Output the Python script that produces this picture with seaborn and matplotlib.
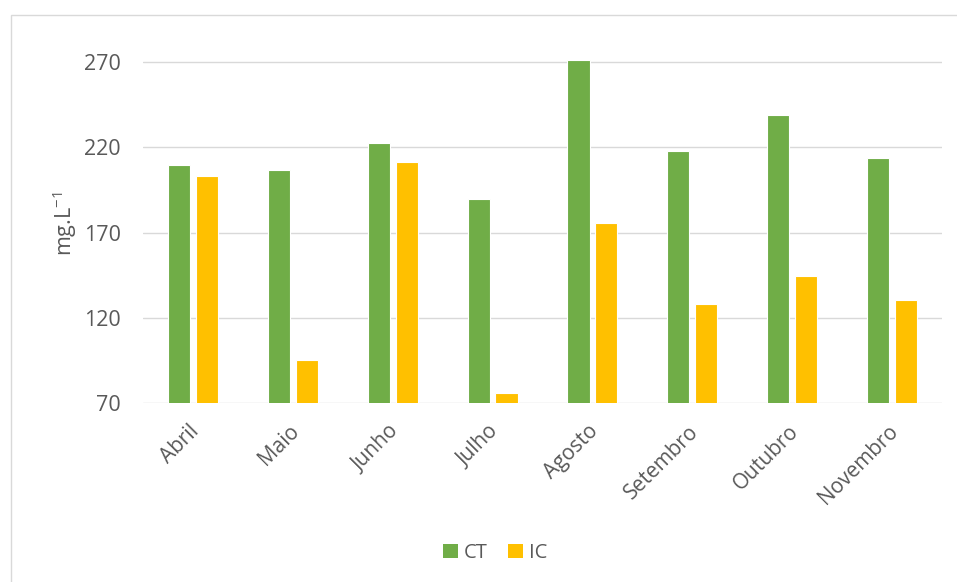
import matplotlib
matplotlib.use("Agg")
import matplotlib.pyplot as plt
from matplotlib.patches import Rectangle, Patch
from matplotlib.transforms import ScaledTranslation
import numpy as np
import pandas as pd
import seaborn as sns

# Monthly concentrations (mg/L)
months = ["Abril", "Maio", "Junho", "Julho", "Agosto", "Setembro", "Outubro", "Novembro"]
ct_values = [209.3, 206.6, 222.2, 189.6, 271.0, 217.7, 239.0, 213.4]
ic_values = [203.1, 95.2, 211.3, 76.0, 175.4, 128.1, 144.3, 130.5]
series_names = ["CT", "IC"]
y_ticks = [70, 120, 170, 220, 270]

colors = {"CT": "#70AD47", "IC": "#FFC000"}
text_color = "#595959"
grid_color = "#D9D9D9"

df = pd.DataFrame({
    "month": months * 2,
    "value": ct_values + ic_values,
    "series": [series_names[0]] * len(months) + [series_names[1]] * len(months),
})

sns.set_theme(style="white")
plt.rcParams["font.family"] = ["Open Sans", "DejaVu Sans"]
plt.rcParams["mathtext.default"] = "regular"

fig = plt.figure(figsize=(9.57, 5.82), dpi=100)
ax = fig.add_axes([143 / 957, 178.7 / 582, 799 / 957, 345 / 582])

sns.barplot(
    data=df, x="month", y="value", hue="series", order=months,
    hue_order=series_names, palette=colors, saturation=1, width=0.56, gap=0.21,
    edgecolor="white", linewidth=0.8, ax=ax, legend=False,
)

ax.set_ylim(70, 272)
ax.set_yticks(y_ticks)
ax.set_axisbelow(True)
ax.yaxis.grid(True, color=grid_color, linewidth=1.0)
ax.xaxis.grid(False)
for side in ["top", "right", "left", "bottom"]:
    ax.spines[side].set_visible(False)

ax.tick_params(axis="y", length=0, pad=16, labelsize=15.5, labelcolor=text_color)
ax.tick_params(axis="x", length=0, pad=18, labelsize=15, labelcolor=text_color)
shift = ScaledTranslation(3 / 100, 0, fig.dpi_scale_trans)
for lbl in ax.get_xticklabels():
    lbl.set_rotation(45)
    lbl.set_ha("right")
    lbl.set_va("center")
    lbl.set_rotation_mode("anchor")
    lbl.set_transform(lbl.get_transform() + shift)

ax.set_xlabel("")
ax.set_ylabel("mg.L$^{-1}$", fontsize=15.5, color=text_color)
ax.yaxis.set_label_coords(-0.08, 0.52)

handles = [Patch(facecolor=colors[s], edgecolor="none") for s in series_names]
ax.legend(
    handles, series_names, loc="center", bbox_to_anchor=(495 / 957, 1 - 553 / 582),
    bbox_transform=fig.transFigure, ncol=2, frameon=False, fontsize=14.5,
    handlelength=0.75, handleheight=0.75, handletextpad=0.3, columnspacing=1.0,
    labelcolor=text_color,
)

# Light frame around the chart area
fig.patches.append(Rectangle((10.5 / 957, -0.1), 1.2, (582 - 15) / 582 + 0.1,
                             transform=fig.transFigure, fill=False,
                             edgecolor=grid_color, linewidth=1.0))

fig.savefig("out.png", dpi=100)
